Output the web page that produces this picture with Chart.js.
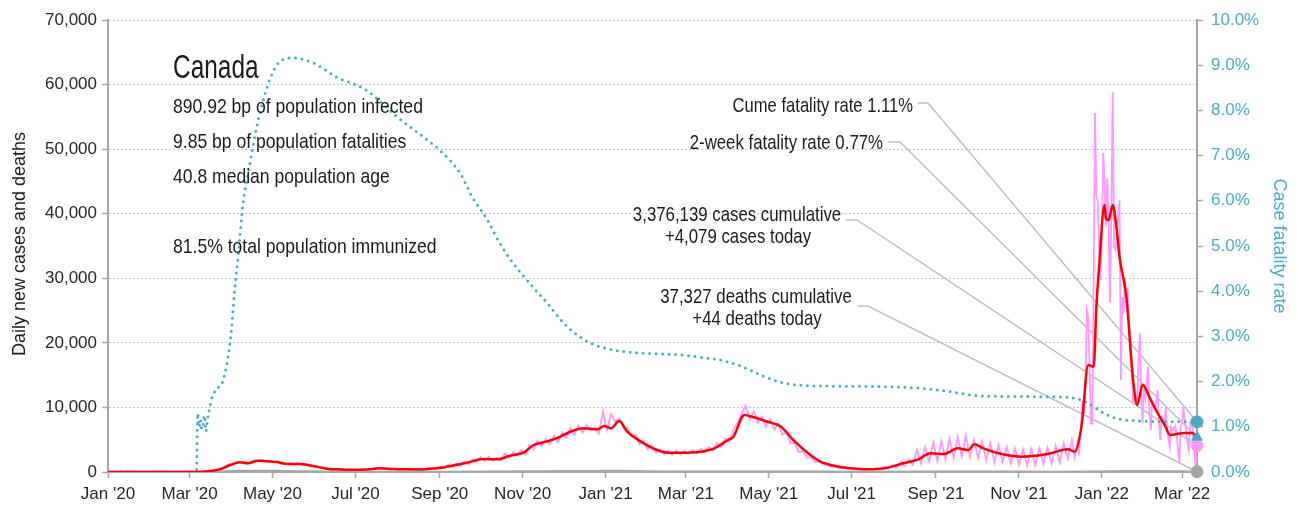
<!DOCTYPE html>
<html>
<head>
<meta charset="utf-8">
<title>Canada - daily cases, deaths and case fatality rate</title>
<script src="https://cdn.jsdelivr.net/npm/chart.js@4/dist/chart.umd.min.js"></script>
<style>
  html, body { margin: 0; padding: 0; background: #fff; }
  #wrap { width: 1299px; height: 512px; }
</style>
</head>
<body>
<div id="wrap"><canvas id="covidChart"></canvas></div>
<script>
// Day index counts from 1 Jan 2020
const LAST_DAY = 801;

// x axis ticks: first of every second month
const tickDays = [0, 60, 121, 182, 244, 305, 366, 425, 486, 547, 609, 670, 731, 790];
const tickLabels = ["Jan '20", "Mar '20", "May '20", "Jul '20", "Sep '20", "Nov '20", "Jan '21",
                    "Mar '21", "May '21", "Jul '21", "Sep '21", "Nov '21", "Jan '22", "Mar '22"];

// 7-day average of new cases
const avgDays = [0, 65, 75, 82, 90, 97, 103, 110, 117, 124, 132, 141, 151, 161, 171, 180, 191, 200, 210, 219,
  230, 242, 252, 264, 276, 286, 296, 306, 313, 323, 331, 340, 350, 360, 365, 370, 376, 382, 392, 401,
  412, 421, 436, 446, 456, 460, 468, 475, 485, 495, 504, 515, 524, 534, 546, 559, 571, 583, 596, 605,
  615, 625, 633, 637, 644, 655, 672, 691, 706, 711, 716, 721, 725, 727, 729, 733, 734, 736, 739, 742,
  744, 749, 754, 757, 761, 767, 772, 778, 781, 792, 798, 801];
const avgCases = [0, 0, 150, 400, 1085, 1500, 1350, 1750, 1650, 1550, 1240, 1240, 930, 520, 400, 360, 400, 570, 460, 420,
  400, 570, 930, 1440, 2010, 1960, 2530, 3050, 4180, 4750, 5310, 6240, 6770, 6610, 7120, 6770, 7900, 6240, 4700, 3660,
  2990, 2990, 3150, 3660, 4960, 5470, 8830, 8470, 7790, 7020, 4960, 2890, 1600, 980, 570, 420, 570, 1240, 1960, 2890,
  2790, 3660, 3410, 4290, 3660, 2890, 2370, 2790, 3510, 3150, 7020, 16570, 16310, 25600, 31800, 41350, 39290, 39030, 41350, 37480,
  33340, 27150, 14250, 10380, 13470, 11150, 9140, 6970, 5730, 6040, 6040, 4650];

// reported daily new cases
const caseDays = [0, 64, 66, 70, 74, 78, 82, 86, 89, 92, 95, 98, 101, 104, 107, 110, 113, 116, 119, 122,
  125, 128, 131, 134, 137, 140, 143, 146, 149, 152, 155, 158, 161, 164, 167, 170, 174, 178, 182, 186,
  190, 194, 197, 200, 204, 208, 212, 216, 220, 224, 228, 232, 236, 240, 244, 247, 250, 253,
  256, 259, 262, 265, 268, 271, 274, 277, 280, 283, 286, 289, 292, 295, 298, 301, 304, 307, 310, 313,
  316, 319, 322, 325, 328, 331, 334, 337, 340, 343, 346, 349, 352, 355, 358, 361, 364, 367, 370, 373,
  376, 379, 382, 385, 388, 391, 394, 397, 400, 403, 406, 409, 412, 415, 418, 421, 424, 427, 430, 433,
  436, 439, 442, 445, 448, 451, 454, 457, 460, 463, 466, 469, 472, 475, 478, 481, 484, 487, 490, 493,
  496, 499, 502, 505, 508, 511, 514, 517, 520, 523, 526, 529, 532, 535, 538, 541, 544, 547, 550, 553,
  556, 559, 562, 565, 568, 571, 574, 577, 580, 583, 586, 589, 592, 595, 598, 601, 604, 607, 610, 613,
  616, 619, 622, 625, 628, 631, 634, 637, 640, 643, 646, 649, 652, 655, 658, 661, 664, 667, 670, 673,
  676, 679, 682, 685, 688, 691, 694, 697, 700, 703, 706, 709, 711,
  712, 713, 714, 715, 716, 717, 718, 719, 720, 721, 722, 723, 724, 725, 726, 727, 728, 729, 730, 731,
  732, 733, 734, 735, 736, 737, 738, 739, 740, 741, 742, 743, 744, 745, 746, 747, 748, 749, 750, 751,
  752, 753, 754, 755, 756, 757, 758, 759, 760, 761, 762, 763, 764, 765, 766, 767, 768, 769, 770, 771,
  772, 773, 774, 775, 776, 777, 778, 779, 780, 781, 782, 783, 784, 785, 786, 787, 788, 789, 790, 791,
  792, 793, 794, 795, 796, 797, 798, 799, 800, 801];
const caseDaily = [0, 0, 0, 30, 100, 300, 450, 900, 1200, 1100, 1600, 1450, 1300, 1500, 1800, 1650, 1900, 1600, 1750, 1450,
  1650, 1300, 1250, 1350, 1150, 1350, 1100, 1050, 850, 950, 700, 600, 500, 550, 380, 450, 330, 400, 300, 420,
  380, 500, 650, 450, 580, 380, 520, 350, 480, 320, 500, 380, 650, 450, 800, 500, 1100, 750,
  1300, 900, 1650, 1200, 1900, 1500, 2300, 1700, 2400, 1750, 2200, 1800, 2900, 2200, 3100, 2600, 3400, 2700, 4200, 3500,
  4900, 4000, 5100, 4300, 5600, 4600, 6100, 5300, 6800, 5800, 7200, 6100, 7300, 6400, 6900, 5900, 9300, 6500, 9000, 7800,
  8300, 6800, 6900, 5500, 5800, 4300, 4800, 3500, 4100, 3000, 3500, 2700, 3300, 2600, 3400, 2700, 3300, 2800, 3400, 2900,
  3600, 3000, 3900, 3300, 4500, 3800, 5200, 4600, 6500, 7600, 9000, 10300, 8200, 9400, 7600, 8600, 7000, 8200, 6600, 7500,
  5800, 6200, 4400, 4500, 3100, 3200, 2200, 2300, 1500, 1700, 1100, 1200, 800, 900, 550, 700, 450, 600, 350, 500,
  300, 450, 350, 600, 400, 800, 500, 1100, 650, 1500, 900, 2000, 1100, 3400, 1300, 3900, 1600, 4600, 1700, 4800,
  1900, 5200, 2100, 5400, 2400, 5600, 2300, 5000, 2200, 4800, 1800, 4500, 1500, 4200, 1500, 3900, 1300, 3700, 1100, 3500,
  1000, 3600, 1100, 3700, 1200, 3800, 1300, 4100, 1500, 4500, 2000, 5000, 2300,
  3200, 4500, 2600, 5000, 8000, 11000, 9000, 14000, 25000, 24000, 16000, 7500, 7500, 30000, 55600, 42600, 42000, 35000, 29700, 36000,
  49400, 45200, 38000, 45500, 38000, 26200, 40000, 58850, 34850, 34400, 36000, 40100, 42100, 14250, 27100, 24600, 30000, 27000, 28000, 23500,
  20000, 17000, 10840, 11000, 12000, 11000, 17000, 21500, 12000, 7590, 13000, 11500, 14000, 16260, 9000, 6500, 11000, 10500, 9800, 11000,
  12700, 8000, 4950, 8500, 8000, 7500, 9900, 7000, 5000, 3870, 7000, 6500, 6800, 7200, 6040, 3500, 1390, 7000, 7500, 10000,
  7800, 6500, 4500, 3400, 7500, 8050, 6000, 3000, 770, 4079];

// reported daily deaths
const deathDays = [0, 65, 75, 85, 95, 105, 115, 125, 135, 145, 160, 180, 210, 250, 280, 300, 320, 340, 360, 375,
  390, 410, 440, 470, 500, 530, 560, 600, 630, 660, 700, 720, 740, 755, 770, 785, 801];
const deathDaily = [0, 0, 10, 60, 140, 170, 160, 150, 110, 70, 35, 10, 5, 12, 30, 60, 90, 110, 130, 150,
  110, 55, 35, 45, 40, 20, 8, 20, 35, 25, 15, 20, 70, 130, 100, 60, 44];

// cumulative case fatality rate, percent
const cfrDays = [0, 65, 66, 67, 68, 69, 70, 71, 72, 73, 74, 75, 76, 78, 80, 84, 90, 93, 96, 99,
  104, 110, 118, 126, 136, 151, 168, 190, 213, 232, 244, 259, 268, 279, 288, 298, 308, 323, 335, 347,
  362, 384, 421, 435, 450, 465, 480, 494, 509, 531, 582, 612, 644, 700, 713, 722, 726, 735, 744, 759,
  780, 801];
const cfrRate = [0, 0, 1.3, 1.0, 1.15, 0.95, 1.05, 1.25, 0.9, 1.1, 1.3, 1.45, 1.6, 1.75, 1.85, 1.97, 2.92, 3.96, 4.85, 5.86,
  6.75, 7.72, 8.6, 9.07, 9.16, 9.05, 8.74, 8.45, 7.85, 7.41, 7.12, 6.61, 6.08, 5.58, 5.07, 4.62, 4.25, 3.74, 3.30, 2.99,
  2.77, 2.65, 2.59, 2.54, 2.48, 2.35, 2.15, 1.99, 1.92, 1.90, 1.88, 1.81, 1.68, 1.66, 1.62, 1.5, 1.42, 1.26, 1.17, 1.13,
  1.11, 1.11];

// latest figures
const countryName = 'Canada';
const cumeFatality = 1.11;
const twoWeekFatality = 0.77;
const casesCumulative = 3376139;
const casesToday = 4079;
const deathsCumulative = 37327;
const deathsToday = 44;
const infoLines = [
  '890.92 bp of population infected',
  '9.85 bp of population fatalities',
  '40.8 median population age',
  '',
  '81.5% total population immunized'
];

const TEAL = '#4bacc6';
const PINK = '#ff99ff';
const RED = '#ff0000';
const GRAY = '#a6a6a6';
const LEADER = '#bfbfbf';
const INK = '#1a1a1a';
const TEXT_FONT = "'Liberation Sans', Arial, sans-serif";

const fmt = n => n.toLocaleString('en-US');
const pairs = (xs, ys) => xs.map((x, i) => ({ x: x, y: ys[i] }));

// condensed text: draw with a horizontal squeeze factor
function label(ctx, text, x, y, squeeze) {
  ctx.save();
  ctx.translate(x, y);
  ctx.scale(squeeze, 1);
  ctx.fillText(text, 0, 0);
  ctx.restore();
}

// Leader lines from each label to its end-of-series marker, plus all free text
const overlay = {
  id: 'overlay',
  beforeDatasetsDraw(chart) {
    const ctx = chart.ctx;
    const xs = chart.scales.x, yc = chart.scales.y, yr = chart.scales.y1;
    const xe = xs.getPixelForValue(LAST_DAY);
    const leaders = [
      [918, 928, 103, yr.getPixelForValue(cumeFatality)],
      [888, 900, 142, yr.getPixelForValue(twoWeekFatality)],
      [846, 857, 220, yc.getPixelForValue(casesToday)],
      [858, 868, 306, yc.getPixelForValue(deathsToday)]
    ];
    ctx.save();
    ctx.strokeStyle = LEADER;
    ctx.lineWidth = 1.5;
    leaders.forEach(([x0, x1, y0, ye]) => {
      ctx.beginPath();
      ctx.moveTo(x0, y0);
      ctx.lineTo(x1, y0);
      ctx.lineTo(xe, ye);
      ctx.stroke();
    });
    ctx.restore();
  },
  afterDraw(chart) {
    const ctx = chart.ctx;
    ctx.save();
    ctx.fillStyle = INK;
    ctx.textBaseline = 'alphabetic';

    // country block
    ctx.textAlign = 'left';
    ctx.font = '33px ' + TEXT_FONT;
    label(ctx, countryName, 173, 78, 0.74);
    ctx.font = '21px ' + TEXT_FONT;
    infoLines.forEach((line, i) => {
      if (line) label(ctx, line, 173, 113 + i * 35, 0.836);
    });

    // latest figures
    ctx.textAlign = 'right';
    label(ctx, 'Cume fatality rate ' + cumeFatality.toFixed(2) + '%', 913, 112, 0.79);
    label(ctx, '2-week fatality rate ' + twoWeekFatality.toFixed(2) + '%', 883, 149, 0.8);
    ctx.textAlign = 'center';
    label(ctx, fmt(casesCumulative) + ' cases cumulative', 737, 221, 0.8);
    label(ctx, '+' + fmt(casesToday) + ' cases today', 738, 243, 0.8);
    label(ctx, fmt(deathsCumulative) + ' deaths cumulative', 756, 303, 0.8);
    label(ctx, '+' + deathsToday + ' deaths today', 757, 325, 0.8);

    // axis titles
    ctx.font = '18px ' + TEXT_FONT;
    ctx.textBaseline = 'middle';
    ctx.translate(20, 244);
    ctx.rotate(-Math.PI / 2);
    ctx.fillText('Daily new cases and deaths', 0, 0);
    ctx.restore();

    ctx.save();
    ctx.font = '18px ' + TEXT_FONT;
    ctx.fillStyle = TEAL;
    ctx.textAlign = 'center';
    ctx.textBaseline = 'middle';
    ctx.translate(1279, 246);
    ctx.rotate(Math.PI / 2);
    ctx.fillText('Case fatality rate', 0, 0);
    ctx.restore();
  }
};

const endMarker = (y, color, style, axis) => ({
  data: [{ x: LAST_DAY, y: y }],
  yAxisID: axis,
  showLine: false,
  clip: false,
  pointStyle: style,
  pointRadius: 6,
  pointBackgroundColor: color,
  pointBorderColor: color,
  order: 0
});

new Chart(document.getElementById('covidChart'), {
  type: 'line',
  data: {
    datasets: [
      endMarker(cumeFatality, TEAL, 'circle', 'y1'),
      endMarker(twoWeekFatality, TEAL, 'triangle', 'y1'),
      endMarker(casesToday, PINK, 'circle', 'y'),
      endMarker(deathsToday, GRAY, 'circle', 'y'),
      {
        label: '7-day average',
        data: pairs(avgDays, avgCases),
        yAxisID: 'y',
        borderColor: RED,
        borderWidth: 2.5,
        pointRadius: 0,
        cubicInterpolationMode: 'monotone',
        order: 1
      },
      {
        label: 'Case fatality rate',
        data: pairs(cfrDays, cfrRate),
        yAxisID: 'y1',
        borderColor: TEAL,
        borderWidth: 3,
        borderDash: [0, 6.5],
        borderCapStyle: 'round',
        pointRadius: 0,
        cubicInterpolationMode: 'monotone',
        order: 2
      },
      {
        label: 'Daily new cases',
        data: pairs(caseDays, caseDaily),
        yAxisID: 'y',
        borderColor: PINK,
        borderWidth: 1.8,
        pointRadius: 0,
        tension: 0,
        order: 3
      },
      {
        label: 'Daily deaths',
        data: pairs(deathDays, deathDaily),
        yAxisID: 'y',
        borderColor: GRAY,
        borderWidth: 2.5,
        pointRadius: 0,
        cubicInterpolationMode: 'monotone',
        order: 4
      }
    ]
  },
  options: {
    responsive: true,
    maintainAspectRatio: false,
    animation: false,
    events: [],
    layout: { padding: { top: 20, left: 0, right: 0, bottom: 0 } },
    plugins: {
      legend: { display: false },
      tooltip: { enabled: false }
    },
    scales: {
      x: {
        type: 'linear',
        min: 0,
        max: LAST_DAY,
        afterBuildTicks: s => { s.ticks = tickDays.map(v => ({ value: v })); },
        afterFit: s => { s.height = 40; },
        ticks: {
          autoSkip: false,
          maxRotation: 0,
          padding: 6,
          color: '#262626',
          font: { family: TEXT_FONT, size: 17 },
          callback: v => tickLabels[tickDays.indexOf(v)]
        },
        grid: { drawOnChartArea: false, tickLength: 6, color: GRAY, tickWidth: 1.5 },
        border: { color: GRAY, width: 2 }
      },
      y: {
        position: 'left',
        min: 0,
        max: 70000,
        afterFit: s => { s.width = 108; },
        ticks: {
          stepSize: 10000,
          padding: 5,
          color: '#262626',
          font: { family: TEXT_FONT, size: 17 },
          callback: v => fmt(v)
        },
        grid: { color: '#c4c4c4', lineWidth: 1, tickLength: 6, tickColor: GRAY, tickWidth: 1.5, tickBorderDash: [] },
        border: { color: GRAY, width: 2, dash: [2, 2] }
      },
      y1: {
        position: 'right',
        min: 0,
        max: 10,
        afterFit: s => { s.width = 102; },
        ticks: {
          stepSize: 1,
          padding: 8,
          color: TEAL,
          font: { family: TEXT_FONT, size: 17 },
          callback: v => v.toFixed(1) + '%'
        },
        grid: { drawOnChartArea: false, tickLength: 6, color: GRAY, tickWidth: 1.5 },
        border: { color: GRAY, width: 2 }
      }
    }
  },
  plugins: [overlay]
});
</script>
</body>
</html>
